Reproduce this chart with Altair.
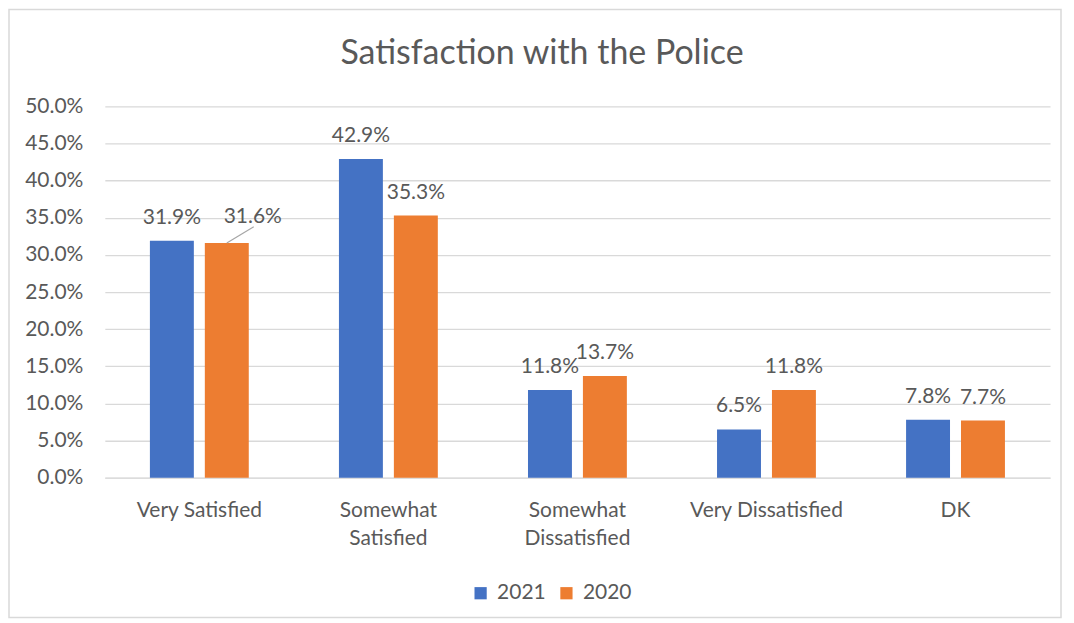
import altair as alt
import pandas as pd

categories = ["Very Satisfied", "Somewhat Satisfied", "Somewhat Dissatisfied", "Very Dissatisfied", "DK"]
series = ["2021", "2020"]
v2021 = [0.319, 0.429, 0.118, 0.065, 0.078]
v2020 = [0.316, 0.353, 0.137, 0.118, 0.077]
colors = ["#4472C4", "#ED7D31"]
y_ticks = [0.0, 0.05, 0.10, 0.15, 0.20, 0.25, 0.30, 0.35, 0.40, 0.45, 0.50]
title_text = "Satisfaction with the Police"

rows = []
for c, a, b in zip(categories, v2021, v2020):
    rows.append({"category": c, "year": "2021", "value": a})
    rows.append({"category": c, "year": "2020", "value": b})
df = pd.DataFrame(rows)

FONT = "Lato"
TXT = "#595959"
FS = 21

W, H = 947, 372

x_enc = alt.X("category:N", sort=categories, title=None,
              scale=alt.Scale(paddingInner=0.477, paddingOuter=0.2385),
              axis=alt.Axis(labelAngle=0, labelFontSize=FS, labelColor=TXT, labelFont=FONT,
                            labelPadding=22, domainColor="#d9d9d9", ticks=False,
                            labelLineHeight=28, labelBaseline="top", labelOverlap=False,
                            labelExpr="indexof(datum.value,'Somewhat')==0 ? split(datum.value,' ') : datum.value"))
xo_enc = alt.XOffset("year:N", sort=series, scale=alt.Scale(paddingInner=0.2, paddingOuter=0))
y_enc = alt.Y("value:Q", title=None,
              scale=alt.Scale(domain=[0, 0.5], nice=False),
              axis=alt.Axis(values=y_ticks, format=".1%", labelFontSize=FS, labelColor=TXT,
                            labelFont=FONT, labelPadding=22, domain=False, ticks=False,
                            labelOverlap=False, gridColor="#d9d9d9", gridWidth=1.3))
color_enc = alt.Color("year:N", title=None,
                      scale=alt.Scale(domain=series, range=colors),
                      legend=alt.Legend(orient="none", legendX=366, legendY=477, direction="horizontal",
                                        symbolType="square", symbolSize=150, symbolStrokeWidth=0,
                                        labelFontSize=FS, labelColor=TXT, labelFont=FONT,
                                        columnPadding=10, labelOffset=6))

moved = "datum.category == 'Very Satisfied' && datum.year == '2020'"

base = alt.Chart(df)
bars = base.mark_bar().encode(x=x_enc, xOffset=xo_enc, y=y_enc, color=color_enc)
labels = base.transform_filter("!(" + moved + ")").mark_text(
    baseline="bottom", dy=-13, fontSize=FS, font=FONT, color=TXT).encode(
    x=x_enc, xOffset=xo_enc, y=y_enc, text=alt.Text("value:Q", format=".1%"))
label_moved = base.transform_filter(moved).mark_text(
    baseline="bottom", dy=-16, dx=26, fontSize=FS, font=FONT, color=TXT).encode(
    x=x_enc, xOffset=xo_enc, y=y_enc, text=alt.Text("value:Q", format=".1%"))
leader = base.transform_filter(moved).mark_point(
    shape="M0,0L1,-0.6", filled=False, stroke="#a6a6a6", strokeWidth=1.2, size=2916, opacity=1).encode(
    x=x_enc, xOffset=xo_enc, y=y_enc)

frame = alt.Chart(alt.Data(values=[{"t": title_text}])).mark_rect(
    fill=None, stroke="#d9d9d9", strokeWidth=1.5).encode(
    x=alt.value(-96), x2=alt.value(958), y=alt.value(-97), y2=alt.value(512))

title = alt.Chart(alt.Data(values=[{"t": title_text}])).mark_text(
    fontSize=34, font=FONT, color=TXT, align="center", baseline="alphabetic").encode(
    x=alt.value(438), y=alt.value(-42), text="t:N")

chart = alt.layer(frame, title, bars, leader, labels, label_moved).properties(
    width=W, height=H,
    autosize=alt.AutoSizeParams(type="none"),
    padding={"left": 97, "top": 98, "right": 16, "bottom": 142},
).configure_view(stroke=None)

chart.save("out.html", embed_options={"renderer": "svg", "actions": False})
